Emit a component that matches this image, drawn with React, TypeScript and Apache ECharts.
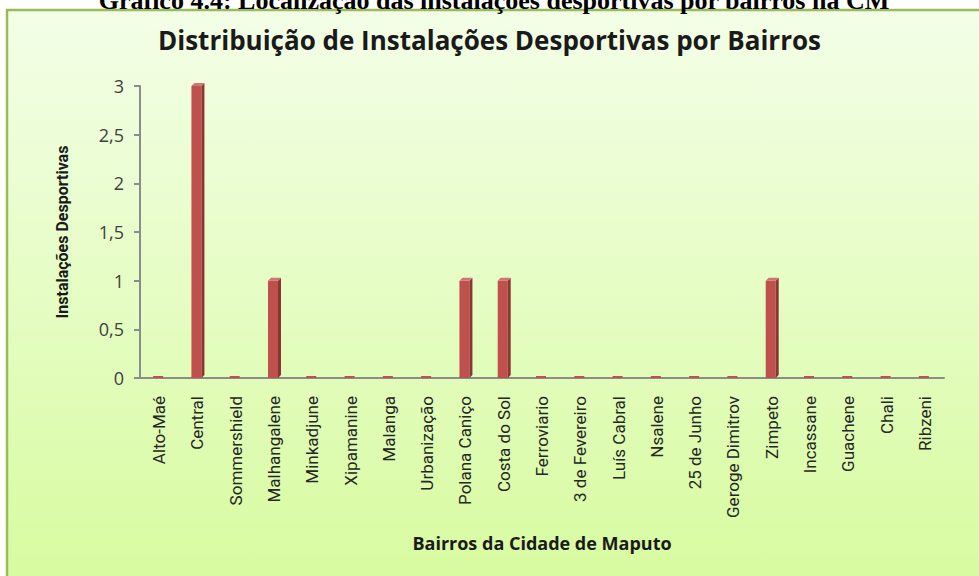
import React, { useEffect, useRef } from "react";
import * as echarts from "echarts";

const caption = "Gráfico 4.4: Localização das instalações desportivas por bairros na CM";
const chartTitle = "Distribuição de Instalações Desportivas por Bairros";
const yAxisName = "Instalações Desportivas";
const xAxisName = "Bairros da Cidade de Maputo";

const categories = [
  "Alto-Maé",
  "Central",
  "Sommershield",
  "Malhangalene",
  "Minkadjune",
  "Xipamanine",
  "Malanga",
  "Urbanização",
  "Polana Caniço",
  "Costa do Sol",
  "Ferroviario",
  "3 de Fevereiro",
  "Luís Cabral",
  "Nsalene",
  "25 de Junho",
  "Geroge Dimitrov",
  "Zimpeto",
  "Incassane",
  "Guachene",
  "Chali",
  "Ribzeni",
];

const values = [0, 3, 0, 1, 0, 0, 0, 0, 1, 1, 0, 0, 0, 0, 0, 0, 1, 0, 0, 0, 0];

const yMin = 0;
const yMax = 3;
const yInterval = 0.5;

export default function App() {
  const ref = useRef<HTMLDivElement>(null);

  useEffect(() => {
    if (!ref.current) return;
    const chart = echarts.init(ref.current, null, { renderer: "svg" });

    const renderItem = (params: any, api: any) => {
      const idx = api.value(0);
      const v = api.value(1);
      const top = api.coord([idx, v]);
      const base = api.coord([idx, 0]);
      const w = 10;
      const d = 3;
      const x0 = top[0] - w / 2 - 1;
      let yTop = top[1];
      if (base[1] - yTop < 2) yTop = base[1] - 2;
      const children: any[] = [
        {
          type: "rect",
          shape: { x: x0, y: yTop, width: w, height: base[1] - yTop },
          style: { fill: "#c0504d" },
        },
      ];
      if (v > 0) {
        children.push(
          {
            type: "polygon",
            shape: {
              points: [
                [x0 + w, yTop],
                [x0 + w + d, yTop - d],
                [x0 + w + d, base[1] - d],
                [x0 + w, base[1]],
              ],
            },
            style: { fill: "#8a3634" },
          },
          {
            type: "polygon",
            shape: {
              points: [
                [x0, yTop],
                [x0 + d, yTop - d],
                [x0 + w + d, yTop - d],
                [x0 + w, yTop],
              ],
            },
            style: { fill: "#d27572" },
          }
        );
      }
      return { type: "group", children };
    };

    chart.setOption({
      animation: false,
      title: {
        text: chartTitle,
        left: "center",
        top: 22,
        textStyle: {
          fontFamily: "Open Sans",
          fontWeight: "bold",
          fontSize: 26,
          color: "#1a1a1a",
        },
      },
      graphic: [
        {
          type: "rect",
          z: -10,
          shape: { x: 7, y: 10, width: 1000, height: 600 },
          style: {
            fill: {
              type: "linear",
              x: 0,
              y: 0,
              x2: 0,
              y2: 1,
              colorStops: [
                { offset: 0, color: "#f3fee7" },
                { offset: 1, color: "#d6fb9c" },
              ],
            },
            stroke: "#9bbb59",
            lineWidth: 2.5,
          },
        },
        {
          type: "text",
          z: 10,
          x: 494,
          y: 13,
          style: {
            text: caption,
            textAlign: "center",
            textVerticalAlign: "bottom",
            fontFamily: "Liberation Serif",
            fontWeight: "bold",
            fontSize: 26,
            fill: "#000000",
          },
        },
      ],
      grid: { left: 140, right: 35, top: 86, bottom: 198 },
      xAxis: {
        type: "category",
        data: categories,
        name: xAxisName,
        nameLocation: "middle",
        nameGap: 156,
        nameTextStyle: {
          fontFamily: "Open Sans",
          fontWeight: "bold",
          fontSize: 18,
          color: "#1a1a1a",
        },
        axisLine: { lineStyle: { color: "#8c8c8c", width: 2 } },
        axisTick: { show: false },
        axisLabel: {
          rotate: 90,
          interval: 0,
          margin: 18,
          fontFamily: "Roboto",
          fontSize: 17,
          color: "#262626",
        },
      },
      yAxis: {
        type: "value",
        min: yMin,
        max: yMax,
        interval: yInterval,
        name: yAxisName,
        nameLocation: "middle",
        nameRotate: 90,
        nameGap: 70,
        nameTextStyle: {
          fontFamily: "Roboto",
          fontWeight: "bold",
          fontSize: 16,
          color: "#1a1a1a",
        },
        axisLine: { show: true, lineStyle: { color: "#8c8c8c", width: 2 } },
        axisTick: { show: true, length: 6, lineStyle: { color: "#8c8c8c", width: 2 } },
        splitLine: { show: false },
        axisLabel: {
          margin: 16,
          fontFamily: "Open Sans",
          fontSize: 18,
          color: "#404040",
          formatter: (v: number) => String(v).replace(".", ","),
        },
      },
      series: [
        {
          type: "custom",
          renderItem,
          encode: { x: 0, y: 1 },
          data: values.map((v, i) => [i, v]),
        },
      ],
    });

    return () => chart.dispose();
  }, []);

  return (
    <div
      ref={ref}
      style={{ position: "absolute", left: 0, top: 0, width: 979, height: 576 }}
    />
  );
}
